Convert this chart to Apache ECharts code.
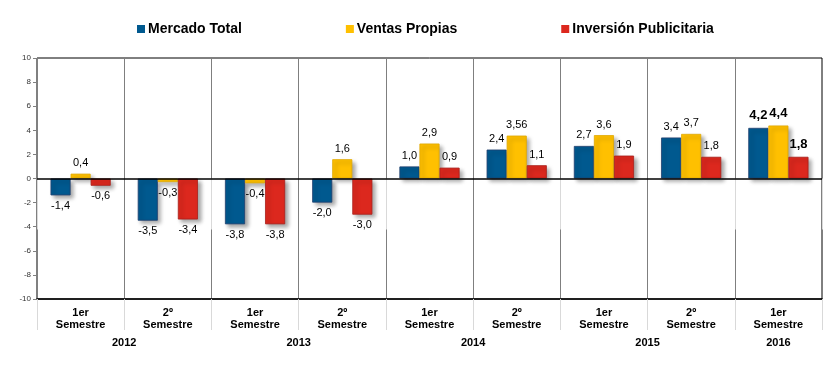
<!DOCTYPE html>
<html>
<head>
<meta charset="utf-8">
<script src="https://cdn.jsdelivr.net/npm/echarts@6/dist/echarts.min.js"></script>
<style>html,body{margin:0;padding:0;background:#fff}#c{width:837px;height:367px}</style>
</head>
<body>
<div id="c"></div>
<script>
var categories = ['1er\nSemestre','2º\nSemestre','1er\nSemestre','2º\nSemestre','1er\nSemestre','2º\nSemestre','1er\nSemestre','2º\nSemestre','1er\nSemestre'];
var years = ['2012','2013','2014','2015','2016'];
var yearSpans = [2,2,2,2,1];
var seriesNames = ['Mercado Total','Ventas Propias','Inversión Publicitaria'];
var mercadoTotal = [-1.4,-3.5,-3.8,-2.0,1.0,2.4,2.7,3.4,4.2];
var ventasPropias = [0.4,-0.3,-0.4,1.6,2.9,3.56,3.6,3.7,4.4];
var inversionPublicitaria = [-0.6,-3.4,-3.8,-3.0,0.9,1.1,1.9,1.8,1.8];
var yTicks = [-10,-8,-6,-4,-2,0,2,4,6,8,10];

var colors = ['#00598F','#FFC000','#DC281E'];
var borders = ['#1f3f6e','#e0a800','#a8201a'];
var FONT = 'Arial, "Liberation Sans", sans-serif';

function fmt(v){
  var s = Number.isInteger(Math.round(v*100)/10) ? v.toFixed(1) : v.toFixed(2);
  return s.replace('.',',');
}
function buildData(arr){
  return arr.map(function(v,i){
    var last = i === arr.length-1;
    return {
      value: v,
      label: {
        position: v < 0 ? 'bottom' : 'top',
        distance: last ? 6 : 5,
        fontSize: last ? 13 : 11,
        fontWeight: last ? 'bold' : 'normal'
      }
    };
  });
}
var yearBounds = [0], yearCenters = [], acc = 0;
yearSpans.forEach(function(s){ yearCenters.push(acc + s); acc += 2*s; yearBounds.push(acc); });

var allVals = [mercadoTotal, ventasPropias, inversionPublicitaria];
var series = allVals.map(function(arr,k){
  var s = {
    name: seriesNames[k],
    type: 'bar',
    xAxisIndex: 0,
    data: buildData(arr),
    barGap: '0%',
    barCategoryGap: '31%',
    itemStyle: {
      color: colors[k], borderColor: borders[k], borderWidth: 0.8,
      shadowColor: 'rgba(0,0,0,0.35)', shadowBlur: 4, shadowOffsetX: 3, shadowOffsetY: 3
    },
    label: {
      show: true, color: '#000', fontFamily: FONT,
      formatter: function(p){ return fmt(p.value); }
    }
  };
  if (k === 0) {
    s.markLine = {
      silent: true, symbol: 'none', label: {show:false},
      lineStyle: {color:'#000', width:1.5, type:'solid'},
      data: [{yAxis: 0}], z: 10
    };
  }
  return s;
});

var chart = echarts.init(document.getElementById('c'), null, {renderer:'canvas'});
chart.setOption({
  animation: false,
  color: colors,
  legend: {
    data: seriesNames,
    left: 132, top: 17,
    icon: 'rect', itemWidth: 8, itemHeight: 8, itemGap: 104,
    itemStyle: {borderWidth: 0, shadowBlur: 0, shadowOffsetX: 0, shadowOffsetY: 0},
    textStyle: {fontFamily: FONT, fontSize: 14, fontWeight: 'bold', color: '#000', padding: [0,0,0,-2]}
  },
  grid: {left: 37, right: 15, top: 58, bottom: 68, show: true, borderColor: '#000', borderWidth: 1},
  xAxis: [{
    type: 'category',
    data: categories,
    axisLine: {show: true, onZero: false, lineStyle: {color: '#000', width: 1.5}},
    axisTick: {show: true, interval: 0, length: 31, lineStyle: {color: '#d9d9d9'}},
    axisLabel: {interval: 0, margin: 8, fontFamily: FONT, fontSize: 11, fontWeight: 'bold', color: '#000', lineHeight: 12},
    splitLine: {show: true, interval: 0, lineStyle: {color: '#7f7f7f', width: 1}}
  },{
    type: 'value',
    min: 0, max: 18,
    position: 'bottom',
    axisLine: {show: false},
    axisTick: {show: true, customValues: yearBounds, length: 51, lineStyle: {color: '#d9d9d9'}},
    axisLabel: {
      show: true, customValues: yearCenters, margin: 38,
      fontFamily: FONT, fontSize: 11, fontWeight: 'bold', color: '#000',
      formatter: function(v){ var i = yearCenters.indexOf(v); return i >= 0 ? years[i] : ''; }
    },
    splitLine: {show: false}
  }],
  yAxis: {
    type: 'value', min: yTicks[0], max: yTicks[yTicks.length-1], interval: 2,
    axisLine: {show: true, lineStyle: {color: '#808080'}},
    axisTick: {show: true, length: 4, lineStyle: {color: '#808080'}},
    axisLabel: {fontFamily: FONT, fontSize: 8, color: '#333', margin: 6},
    splitLine: {show: false}
  },
  series: series
});
</script>
</body>
</html>
